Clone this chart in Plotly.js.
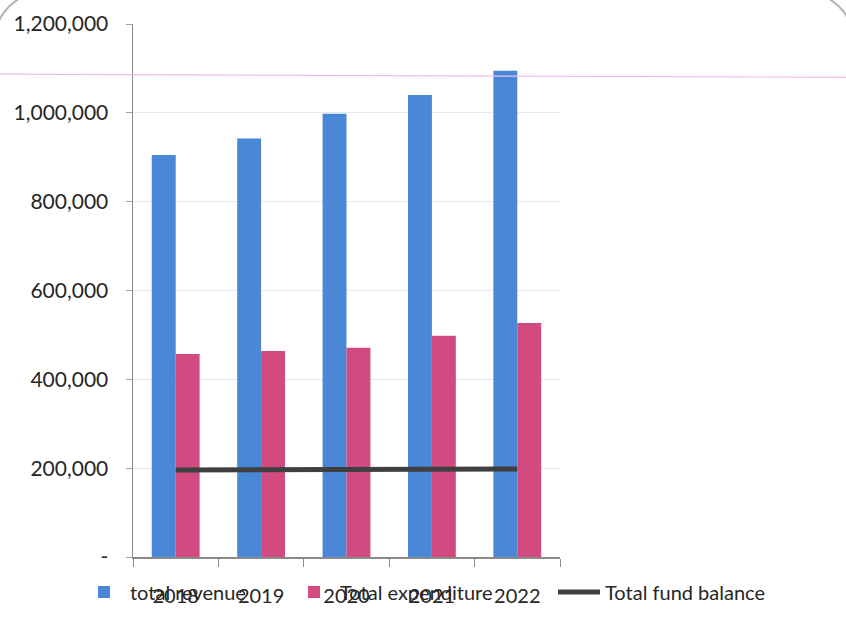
<!DOCTYPE html>
<html>
<head>
<meta charset="utf-8">
<script src="https://cdn.plot.ly/plotly-3.0.1.min.js"></script>
<style>
  html, body { margin: 0; padding: 0; background: #ffffff; overflow: hidden; }
  #frame { position: absolute; left: -6px; top: -8px; width: 856px; height: 700px;
           border: 2px solid #b5b5b5; border-radius: 48px; pointer-events: none; z-index: 5; }
  #chart { width: 846px; height: 618px; }
</style>
</head>
<body>
<div id="frame"></div>
<div id="chart"></div>
<script>
// ---- data ----
const years = ['2018', '2019', '2020', '2021', '2022'];
const totalRevenue = [905000, 942000, 998000, 1040000, 1095000];
const totalExpenditure = [457000, 464000, 471000, 498000, 527000];
const totalFundBalance = [196000, 197000, 197000, 197000, 198000];
const yTickValues = [0, 200000, 400000, 600000, 800000, 1000000, 1200000];
const yTickLabels = ['-', '200,000', '400,000', '600,000', '800,000', '1,000,000', '1,200,000'];

const FONT = 'Lato, "Open Sans", sans-serif';
const TXT = '#262626';
const W = 846, H = 618;

const traces = [
  { type: 'bar', name: 'total revenue', x: years, y: totalRevenue,
    marker: { color: '#4a87d6' }, legend: 'legend', showlegend: true },
  { type: 'bar', name: 'Total expenditure', x: years, y: totalExpenditure,
    marker: { color: '#d24b80' }, legend: 'legend2', showlegend: true },
  { type: 'scatter', mode: 'lines', name: 'Total fund balance', x: years, y: totalFundBalance,
    line: { color: '#3f3f3f', width: 5 }, legend: 'legend3', showlegend: true }
];

function legendAt(px) {
  return {
    visible: true,
    orientation: 'h', xref: 'container', yref: 'container',
    yanchor: 'middle', xanchor: 'left', x: px / W, y: 1 - 592 / H,
    bgcolor: 'rgba(0,0,0,0)', font: { family: FONT, size: 20, color: TXT },
    itemwidth: 42, tracegroupgap: 0, borderwidth: 0
  };
}

const layout = {
  width: W, height: H,
  showlegend: true,
  margin: { l: 133, r: 286, t: 24, b: 61 },
  paper_bgcolor: '#ffffff', plot_bgcolor: '#ffffff',
  barmode: 'group', bargap: 0.44, bargroupgap: 0,
  font: { family: FONT, color: TXT },
  xaxis: {
    type: 'category', tickson: 'boundaries', ticks: 'outside', ticklen: 8,
    tickcolor: '#8a8a8a', showline: true, linecolor: '#8a8a8a', linewidth: 1.5,
    showgrid: false, zeroline: false, ticklabelstandoff: 20,
    tickfont: { family: FONT, size: 20, color: TXT }, automargin: false
  },
  yaxis: {
    range: [0, 1200000], tickmode: 'array', tickvals: yTickValues, ticktext: yTickLabels,
    ticks: 'outside', ticklen: 6, tickcolor: '#a0a0a0', showline: true,
    linecolor: '#8a8a8a', linewidth: 1.5, gridcolor: '#e6e9f1', gridwidth: 1,
    zeroline: false, ticklabelstandoff: 13, automargin: false,
    tickfont: { family: FONT, size: 21, color: TXT }
  },
  legend: legendAt(78),
  legend2: legendAt(288),
  legend3: legendAt(553),
  shapes: [
    { type: 'line', xref: 'paper', yref: 'y', x0: -133 / 427, x1: 713 / 427,
      y0: 1087000, y1: 1080000, line: { color: '#eac0ea', width: 1.2 }, layer: 'above' }
  ]
};

Plotly.newPlot('chart', traces, layout, { displayModeBar: false, staticPlot: true });
</script>
</body>
</html>
